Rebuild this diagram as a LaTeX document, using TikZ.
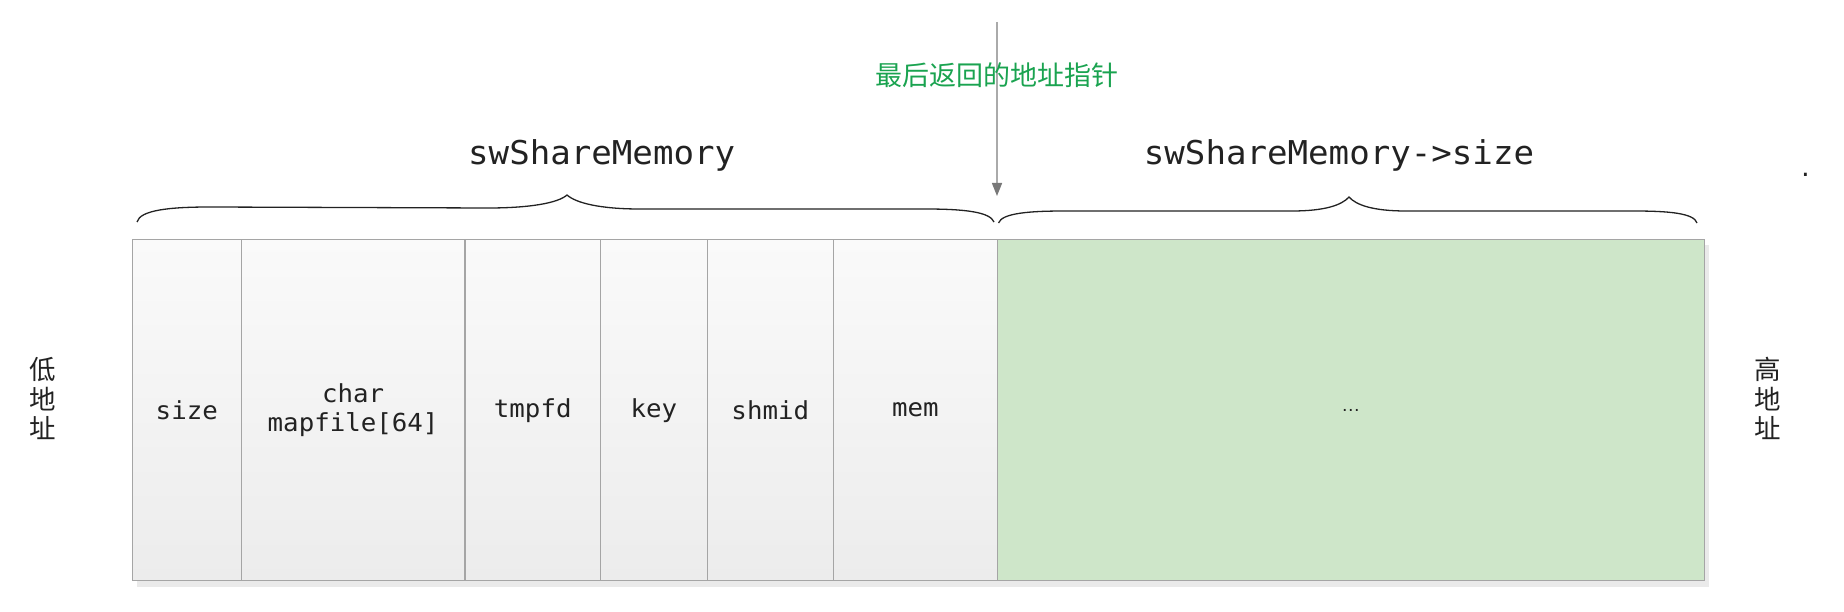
\documentclass[tikz,border=0pt]{standalone}
\usepackage{fontspec}
\usetikzlibrary{arrows.meta}
\newfontfamily\monof[FakeStretch=1.04]{DejaVu Sans Mono}
\newfontfamily\cjkf{Noto Sans CJK SC}
\newfontfamily\sansf{Liberation Sans}
\definecolor{bordergray}{RGB}{165,165,165}
\definecolor{celltop}{RGB}{250,250,250}
\definecolor{cellbot}{RGB}{236,236,236}
\definecolor{memgreen}{RGB}{206,230,201}
\definecolor{ptrgreen}{RGB}{26,163,80}
\definecolor{txtdark}{RGB}{34,34,34}
\definecolor{shadowgray}{RGB}{234,234,234}
\definecolor{ptrline}{RGB}{170,170,170}
\definecolor{ptrhead}{RGB}{120,120,120}
\begin{document}
\begin{tikzpicture}[x=1pt,y=-1pt,
  cell/.style={draw=bordergray, line width=1.4pt, top color=celltop, bottom color=cellbot,
    minimum height=341pt, inner sep=0pt, anchor=north west,
    font=\monof\fontsize{24.8}{29}\selectfont, text=txtdark, align=center},
  heapcell/.style={cell, fill=memgreen, top color=memgreen, bottom color=memgreen, font=\sansf\fontsize{19}{19}\selectfont},
  title/.style={font=\monof\fontsize{32.8}{38}\selectfont, text=txtdark, anchor=base, inner sep=0pt},
  side/.style={font=\cjkf\fontsize{26.5}{29.5}\selectfont, text=txtdark, align=center, inner sep=0pt},
  bracepath/.style={draw=txtdark, line width=1.3pt},
  ptrarrow/.style={draw=ptrline, line width=1.5pt, -{Triangle[length=13pt,width=10pt,color=ptrhead]}}
]
\useasboundingbox (0,0) rectangle (1844,612);
% shadow
\fill[shadowgray] (136.7,245) rectangle (1708.5,586.5);
% cells
\node[cell, minimum width=108.8pt] (c1) at (131.7,239) {size};
\node[cell, minimum width=223.8pt] (c2) at (240.5,239) {char\\mapfile[64]};
\node[cell, minimum width=135.5pt] (c3) at (464.3,239) {tmpfd};
\node[cell, minimum width=106.9pt] (c4) at (599.8,239) {key};
\node[cell, minimum width=125.8pt] (c5) at (706.7,239) {shmid};
\node[cell, minimum width=164.5pt] (c6) at (832.5,239) {mem};
\node[heapcell, minimum width=706.5pt] (heap) at (997,239) {…};
% braces
\path[bracepath] (137,222) .. controls (140,210) and (170,207) .. (210,207) -- (488,208)
  .. controls (530,208) and (558,203) .. (567,195)
  .. controls (576,203) and (600,209) .. (640,209) -- (925,209)
  .. controls (965,209) and (990,212) .. (994,222);
\path[bracepath] (998.5,223) .. controls (1002,213) and (1030,211) .. (1065,211) -- (1292,211)
  .. controls (1325,211) and (1342,205) .. (1349,197)
  .. controls (1356,205) and (1373,211) .. (1406,211) -- (1633,211)
  .. controls (1668,211) and (1694,213) .. (1697,223);
% titles
\node[title] (t1) at (601.7,165) {swShareMemory};
\node[title] (t2) at (1339,165) {swShareMemory->size};
% pointer
\coordinate (ptrtop) at (997,22);
\coordinate (ptrend) at (997,196);
\draw[ptrarrow] (ptrtop) -- (ptrend);
\node[font=\cjkf\fontsize{27}{27}\selectfont, text=ptrgreen, inner sep=0pt] (plabel) at (997,75) {最后返回的地址指针};
% side labels
\node[side] (low) at (43,398.5) {低\\地\\址};
\node[side] (high) at (1768,398.5) {高\\地\\址};
% stray dot
\node[font=\monof\fontsize{22}{22}\selectfont, text=txtdark, anchor=base, inner sep=0pt] (dot) at (1805.5,177) {.};
\end{tikzpicture}
\end{document}
